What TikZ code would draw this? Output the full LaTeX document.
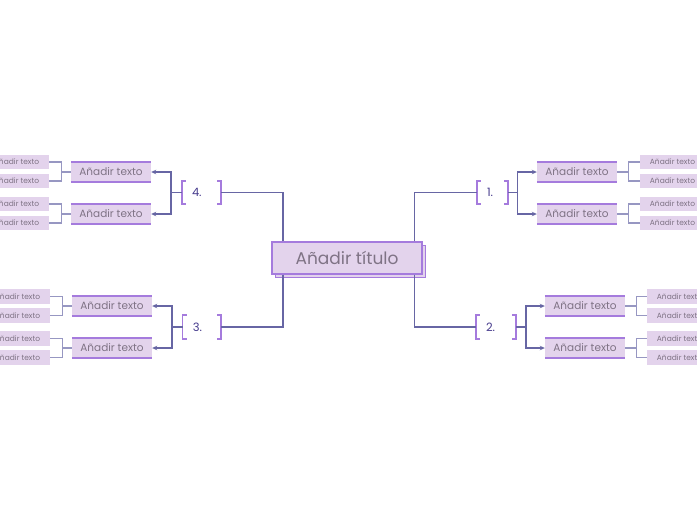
\documentclass[tikz,border=0pt]{standalone}
\usepackage{fontspec}
\setmainfont{Poppins}
\usetikzlibrary{arrows.meta,shadows}
\definecolor{nodefill}{HTML}{E3D3EC}
\definecolor{edgepurple}{HTML}{A57BDD}
\definecolor{linecol}{HTML}{6766A4}
\definecolor{leafline}{HTML}{9797C2}
\definecolor{txtgray}{HTML}{7F7385}
\definecolor{numcol}{HTML}{453A8C}
\tikzset{
  titlebox/.style={draw=edgepurple, line width=1.4pt, fill=nodefill, minimum width=150pt, minimum height=32pt, inner sep=0pt,
    text=txtgray, font=\fontsize{17}{20}\selectfont,
    copy shadow={shadow xshift=3.5pt, shadow yshift=-3.5pt}},
  mainbox/.style={fill=nodefill, minimum width=80pt, minimum height=20pt, inner sep=0pt, text=txtgray, font=\fontsize{10.5}{12}\selectfont},
  leafbox/.style={fill=nodefill, minimum width=65pt, minimum height=14.5pt, inner sep=0pt, text=txtgray, font=\fontsize{7.5}{9}\selectfont},
  brk/.style={minimum height=23pt, inner xsep=10pt, inner ysep=0pt, align=left, text=numcol, font=\fontsize{11.5}{13}\selectfont},
  conn/.style={draw=linecol, line width=1.4pt},
  arr/.style={conn, -{Stealth[length=5pt,width=4.5pt]}},
  leafconn/.style={draw=leafline, line width=1.1pt},
  bracketline/.style={draw=edgepurple, line width=1.8pt},
  edgeline/.style={draw=edgepurple, line width=1.5pt},
}
\begin{document}
\begin{tikzpicture}[x=1pt,y=-1pt]
\useasboundingbox (0,0) rectangle (697,520);
\clip (0,0) rectangle (697,520);
% title
\node[titlebox] (title) at (347,258) {Añadir título};
% bracket nodes
\node[brk, text width=11pt] (b1) at (492.5,192.5) {1.};
\node[brk, text width=19.7pt] (b2) at (495.9,327) {2.};
\node[brk, text width=18.3pt] (b3) at (201.9,327) {3.};
\node[brk, text width=19pt] (b4) at (201.5,192.5) {4.};
\foreach \b in {b1,b2,b3,b4}{
  \draw[bracketline] ([xshift=4pt]\b.north west) -- (\b.north west) -- (\b.south west) -- ([xshift=4pt]\b.south west);
  \draw[bracketline] ([xshift=-4pt]\b.north east) -- (\b.north east) -- (\b.south east) -- ([xshift=-4pt]\b.south east);
}
% main nodes
\node[mainbox] (n1a) at (577,172) {Añadir texto};
\node[mainbox] (n1b) at (577,214) {Añadir texto};
\node[mainbox] (n2a) at (585,306) {Añadir texto};
\node[mainbox] (n2b) at (585,348) {Añadir texto};
\node[mainbox] (n3a) at (112,306) {Añadir texto};
\node[mainbox] (n3b) at (112,348) {Añadir texto};
\node[mainbox] (n4a) at (111,172) {Añadir texto};
\node[mainbox] (n4b) at (111,214) {Añadir texto};
\foreach \n in {n1a,n1b,n2a,n2b,n3a,n3b,n4a,n4b}{
  \draw[edgeline] (\n.north west) -- (\n.north east);
  \draw[edgeline] (\n.south west) -- (\n.south east);
}
% leaves
\node[leafbox] (l1a) at (672.5,162) {Añadir texto};
\node[leafbox] (l1b) at (672.5,181) {Añadir texto};
\node[leafbox] (l1c) at (672.5,204) {Añadir texto};
\node[leafbox] (l1d) at (672.5,223) {Añadir texto};
\node[leafbox] (l2a) at (679.5,296.5) {Añadir texto};
\node[leafbox] (l2b) at (679.5,315.7) {Añadir texto};
\node[leafbox] (l2c) at (679.5,338.3) {Añadir texto};
\node[leafbox] (l2d) at (679.5,357.5) {Añadir texto};
\node[leafbox] (l3a) at (17.5,296.7) {Añadir texto};
\node[leafbox] (l3b) at (17.5,315.5) {Añadir texto};
\node[leafbox] (l3c) at (17.5,338.3) {Añadir texto};
\node[leafbox] (l3d) at (17.5,357.3) {Añadir texto};
\node[leafbox] (l4a) at (16.5,162) {Añadir texto};
\node[leafbox] (l4b) at (16.5,181) {Añadir texto};
\node[leafbox] (l4c) at (16.5,204) {Añadir texto};
\node[leafbox] (l4d) at (16.5,223) {Añadir texto};
% title to brackets
\draw[conn] ([xshift=11.5pt]title.north west) |- (b4.east);
\draw[conn] ([xshift=-8pt]title.north east) |- (b1.west);
\draw[conn] ([xshift=11.5pt]title.south west) |- (b3.east);
\draw[conn] ([xshift=-8pt]title.south east) |- (b2.west);
% brackets to main nodes
\draw[conn] (b1.east) -- ++(9,0) coordinate (j1);
\draw[arr] (j1) |- (n1a.west);
\draw[arr] (j1) |- (n1b.west);
\draw[conn] (b2.east) -- ++(10,0) coordinate (j2);
\draw[arr] (j2) |- (n2a.west);
\draw[arr] (j2) |- (n2b.west);
\draw[conn] (b3.west) -- ++(-10.4,0) coordinate (j3);
\draw[arr] (j3) |- (n3a.east);
\draw[arr] (j3) |- (n3b.east);
\draw[conn] (b4.west) -- ++(-11,0) coordinate (j4);
\draw[arr] (j4) |- (n4a.east);
\draw[arr] (j4) |- (n4b.east);
% main nodes to leaves
\foreach \n/\l/\d in {n1a/l1/11, n2a/l2/11.5}{
  \draw[leafconn] (\n.east) -- ++(\d,0) coordinate (k) |- (\l a.west);
  \draw[leafconn] (k) |- (\l b.west);
}
\foreach \n/\l/\d in {n1b/l1/11, n2b/l2/11.5}{
  \draw[leafconn] (\n.east) -- ++(\d,0) coordinate (k) |- (\l c.west);
  \draw[leafconn] (k) |- (\l d.west);
}
\foreach \n/\l/\d in {n3a/l3/9.6, n4a/l4/9.5}{
  \draw[leafconn] (\n.west) -- ++(-\d,0) coordinate (k) |- (\l a.east);
  \draw[leafconn] (k) |- (\l b.east);
}
\foreach \n/\l/\d in {n3b/l3/9.6, n4b/l4/9.5}{
  \draw[leafconn] (\n.west) -- ++(-\d,0) coordinate (k) |- (\l c.east);
  \draw[leafconn] (k) |- (\l d.east);
}
\end{tikzpicture}
\end{document}
